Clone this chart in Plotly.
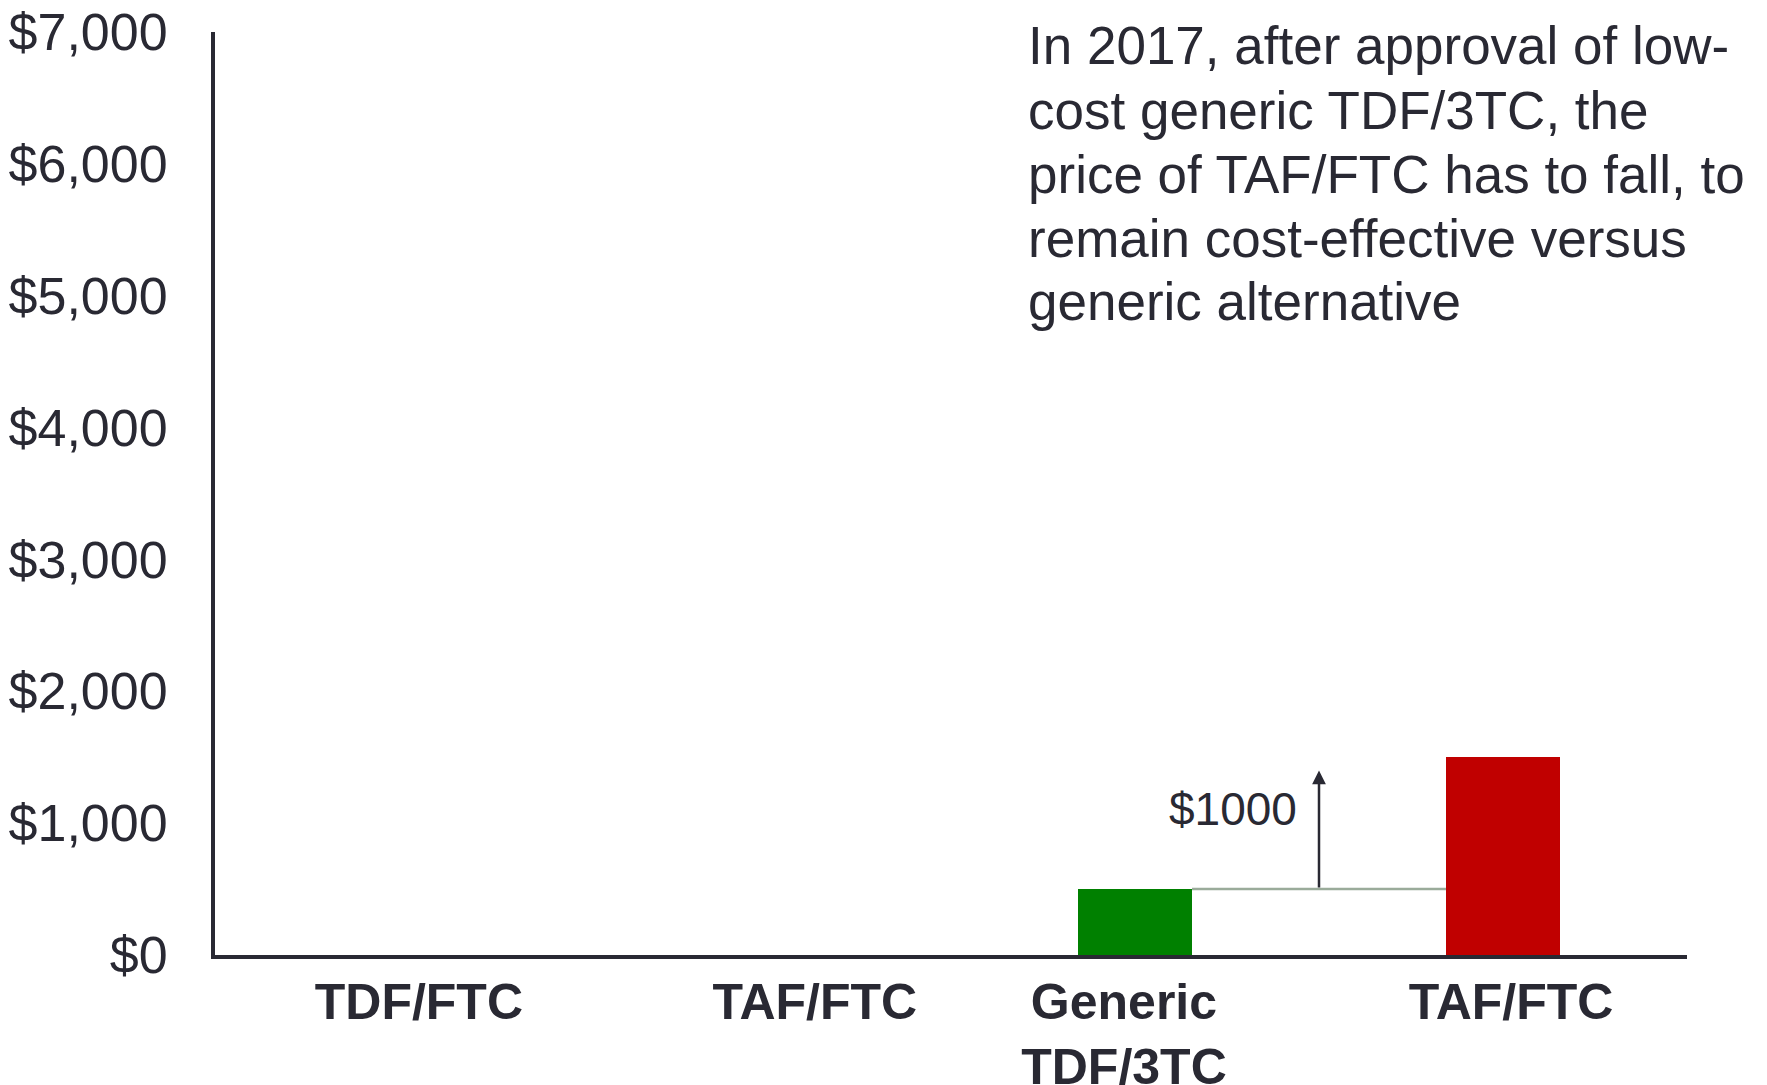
import plotly.graph_objects as go

# ---- data ----
categories = ["TDF/FTC", "TAF/FTC", "Generic<br>TDF/3TC", "TAF/FTC"]
positions = [0, 1, 2, 3]
prices = [0, 0, 500, 1500]
bar_colors = ["#008000", "#008000", "#008000", "#C00000"]
y_ticks = [0, 1000, 2000, 3000, 4000, 5000, 6000, 7000]
y_ticktext = ["$0", "$1,000", "$2,000", "$3,000", "$4,000", "$5,000", "$6,000", "$7,000"]
gap_label = "$1000"
arrow_top = 1400
label_level = 1110
note_lines = [
    "In 2017, after approval of low-",
    "cost generic TDF/3TC, the",
    "price of TAF/FTC has to fall, to",
    "remain cost-effective versus",
    "generic alternative",
]

# ---- style / layout ----
DARK = "#292933"
FONT = "Liberation Sans, Arial, sans-serif"
BAR_W = 0.31
LABEL_NUDGE = [0.054, 0.13, -0.03, 0.022]   # text-box placement of category labels
W, H = 1759, 1077
ML, MR, MT, MB = 207, 80, 24, 130

fig = go.Figure()
fig.add_trace(go.Bar(
    x=positions, y=prices, width=BAR_W,
    marker=dict(color=bar_colors, line=dict(width=0)),
    hoverinfo="skip", showlegend=False,
))

# connector line from generic bar to TAF/FTC bar at generic price level
fig.add_shape(type="line", xref="x", yref="y",
              x0=positions[2] + BAR_W / 2, x1=positions[3] - BAR_W / 2,
              y0=prices[2], y1=prices[2],
              line=dict(color="#9aab9a", width=2.5), layer="below")

# arrow
mid_x = (positions[2] + positions[3]) / 2
fig.add_annotation(x=mid_x, y=arrow_top, ax=mid_x, ay=prices[2],
                   xref="x", yref="y", axref="x", ayref="y",
                   text="", showarrow=True, arrowhead=2, arrowsize=1.1,
                   arrowwidth=2.5, arrowcolor=DARK)
fig.add_annotation(x=mid_x, y=label_level, xref="x", yref="y",
                   text=gap_label, showarrow=False, xanchor="right",
                   xshift=-20, font=dict(family=FONT, size=46, color=DARK))

# note text (positioned in pixels, converted to paper coords)
plot_w = W - ML - MR
plot_h = H - MT - MB
for i, line in enumerate(note_lines):
    px_x, px_y = 1018, 38 + i * 64
    fig.add_annotation(x=(px_x - ML) / plot_w, y=1 - (px_y - MT) / plot_h,
                       xref="paper", yref="paper",
                       text=line, showarrow=False, xanchor="left",
                       yanchor="middle", font=dict(family=FONT, size=53, color=DARK))

fig.update_layout(
    width=W, height=H,
    margin=dict(l=ML, r=MR, t=MT, b=MB, autoexpand=False),
    paper_bgcolor="white", plot_bgcolor="white",
    bargap=0,
    font=dict(family=FONT, color=DARK),
)
fig.update_xaxes(
    tickvals=[p + n for p, n in zip(positions, LABEL_NUDGE)],
    ticktext=["<b>%s</b>" % c for c in categories],
    range=[-0.5, 3.5], showgrid=False, zeroline=False,
    showline=True, linecolor=DARK, linewidth=4,
    ticks="", tickfont=dict(family=FONT, size=50, color=DARK),
    ticklabelstandoff=0, automargin=False, ticklabeloverflow="allow",
)
fig.update_yaxes(
    range=[0, 7000], tickvals=y_ticks, ticktext=y_ticktext,
    showgrid=False, zeroline=False,
    showline=True, linecolor=DARK, linewidth=4,
    ticks="", tickfont=dict(family=FONT, size=52, color=DARK),
    ticklabelstandoff=33, automargin=False, ticklabeloverflow="allow",
)

fig.write_html("out.html")
